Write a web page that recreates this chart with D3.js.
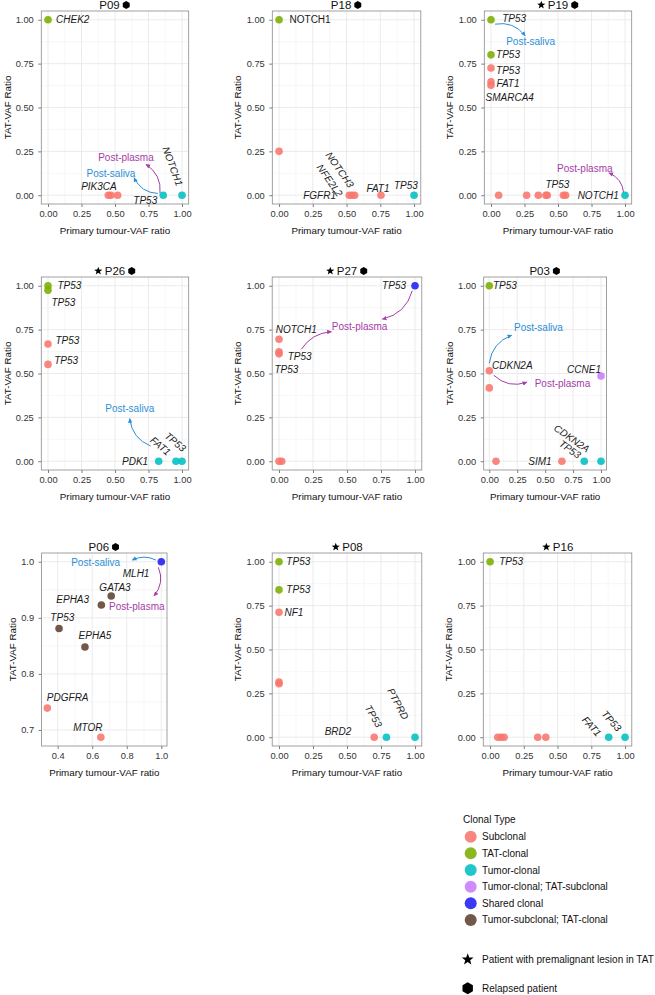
<!DOCTYPE html>
<html><head><meta charset="utf-8">
<script src="https://cdn.jsdelivr.net/npm/d3@7"></script>
<style>body{margin:0;background:#fff} svg{display:block} text{font-family:"Liberation Sans",Arial,Helvetica,sans-serif}</style>
</head><body><svg id="c" width="655" height="995"></svg>
<script>
// ---------------- DATA ----------------
const clonalTypes = ["Subclonal","TAT-clonal","Tumor-clonal","Tumor-clonal; TAT-subclonal","Shared clonal","Tumor-subclonal; TAT-clonal"];
const clonalColors = ["#F8766D","#7CAE00","#00BFC4","#C77CFF","#1F1FF5","#5E4130"];
const patients = ["P09","P18","P19","P26","P27","P03","P06","P08","P16"];
const premalignant = ["P19","P26","P27","P08","P16"];
const relapsed = ["P09","P18","P19","P26","P27","P03","P06"];
const xTickValues = [0,0.25,0.5,0.75,1];
const yTickValues = [0,0.25,0.5,0.75,1];
const xTickValuesP06 = [0.4,0.6,0.8,1.0];
const yTickValuesP06 = [0.7,0.8,0.9,1.0];

// points: [primary tumour-VAF ratio, TAT-VAF ratio, clonal type index]
const P09_points = [[0,1,1],[0.45,0,0],[0.47,0,0],[0.52,0,0],[0.86,0,2],[1,0,2]];
const P18_points = [[0,1,1],[0,0.25,0],[0.52,0,0],[0.54,0,0],[0.56,0,0],[0.755,0,0],[1,0,2]];
const P19_points = [[0,1,1],[0,0.80,1],[0,0.725,0],[0,0.646,0],[0,0.627,0],[0.057,0,0],[0.266,0,0],[0.353,0,0],[0.41,0,0],[0.42,0,0],[0.54,0,0],[0.557,0,0],[1,0,2]];
const P26_points = [[0,1,1],[0,0.975,1],[0,0.668,0],[0,0.552,0],[0.826,0,2],[0.955,0,2],[1,0,2]];
const P27_points = [[0,0.695,0],[0,0.623,0],[0,0.612,0],[0,0,0],[0.02,0,0],[1,1,4]];
const P03_points = [[0,1,1],[0,0.516,0],[0,0.418,0],[0.06,0,0],[0.65,0,0],[0.85,0,2],[1,0,2],[1,0.486,3]];
const P06_points = [[1,1,4],[0.71,0.939,5],[0.653,0.923,5],[0.408,0.881,5],[0.558,0.848,5],[0.34,0.739,0],[0.65,0.687,0]];
const P08_points = [[0,1,1],[0,0.84,1],[0,0.712,0],[0,0.314,0],[0,0.305,0],[0.70,0,0],[0.79,0,2],[1,0,2]];
const P16_points = [[0,1,1],[0.057,0,0],[0.081,0,0],[0.104,0,0],[0.353,0,0],[0.413,0,0],[0.879,0,2],[1,0,2]];

// gene labels: [text, x, y, angle, anchor, italic]
const P09_labels = [["CHEK2",0.06,1.0,0,"start",1],["PIK3CA",0.38,0.05,0,"middle",1],["TP53",0.726,-0.03,0,"middle",1],["NOTCH1",0.93,0.165,70,"middle",1]];
const P18_labels = [["NOTCH1",0.23,1.0,0,"middle",0],["FGFR1",0.30,0,0,"middle",1],["NOTCH3",0.45,0.145,55,"middle",1],["NFE2L2",0.375,0.085,55,"middle",1],["FAT1",0.733,0.04,0,"middle",1],["TP53",0.94,0.057,0,"middle",1]];
const P19_labels = [["TP53",0.173,1.01,0,"middle",1],["TP53",0.127,0.80,0,"middle",1],["TP53",0.127,0.71,0,"middle",1],["FAT1",0.127,0.635,0,"middle",1],["SMARCA4",0.14,0.555,0,"middle",1],["TP53",0.495,0.06,0,"middle",1],["NOTCH1",0.80,0,0,"middle",1]];
const P26_labels = [["TP53",0.16,1.0,0,"middle",1],["TP53",0.115,0.904,0,"middle",1],["TP53",0.145,0.69,0,"middle",1],["TP53",0.135,0.576,0,"middle",1],["PDK1",0.65,0,0,"middle",1],["TP53",0.95,0.11,40,"middle",1],["FAT1",0.84,0.087,40,"middle",1]];
const P27_labels = [["NOTCH1",0.127,0.753,0,"middle",1],["TP53",0.152,0.595,0,"middle",1],["TP53",0.054,0.52,0,"middle",1],["TP53",0.846,1.0,0,"middle",1]];
const P03_labels = [["TP53",0.14,1.0,0,"middle",1],["CDKN2A",0.206,0.548,0,"middle",1],["CCNE1",0.848,0.525,0,"middle",1],["SIM1",0.454,0,0,"middle",1],["TP53",0.722,0.068,35,"middle",1],["CDKN2A",0.738,0.13,35,"middle",1]];
const P06_labels = [["MLH1",0.854,0.979,0,"middle",1],["GATA3",0.732,0.954,0,"middle",1],["EPHA3",0.487,0.933,0,"middle",1],["TP53",0.427,0.90,0,"middle",1],["EPHA5",0.616,0.869,0,"middle",1],["PDGFRA",0.458,0.757,0,"middle",1],["MTOR",0.575,0.705,0,"middle",1]];
const P08_labels = [["TP53",0.142,1.0,0,"middle",1],["TP53",0.142,0.84,0,"middle",1],["NF1",0.11,0.712,0,"middle",1],["BRD2",0.434,0.034,0,"middle",1],["TP53",0.695,0.12,60,"middle",1],["PTPRD",0.875,0.19,62,"middle",1]];
const P16_labels = [["TP53",0.156,1.0,0,"middle",1],["FAT1",0.753,0.062,48,"middle",1],["TP53",0.90,0.093,48,"middle",1]];

// annotations: [kind, textX, textY] and arrows [kind, x1, y1, x2, y2, curvature]
const P09_notes = [["Post-plasma",0.582,0.216],["Post-saliva",0.47,0.125]];
const P09_arrows = [["Post-plasma",0.836,0.01,0.731,0.176,0.3],["Post-saliva",0.82,0.01,0.642,0.10,-0.3]];
const P19_notes = [["Post-saliva",0.296,0.877],["Post-plasma",0.70,0.152]];
const P19_arrows = [["Post-saliva",0.03,0.975,0.255,0.909,-0.3],["Post-plasma",0.99,0.013,0.88,0.127,0.3]];
const P26_notes = [["Post-saliva",0.61,0.298]];
const P26_arrows = [["Post-saliva",0.766,0.087,0.61,0.243,-0.3]];
const P27_notes = [["Post-plasma",0.593,0.77]];
const P27_arrows = [["Post-plasma",0.164,0.638,0.385,0.738,-0.25],["Post-plasma",0.98,0.972,0.76,0.81,-0.3]];
const P03_notes = [["Post-saliva",0.44,0.76],["Post-plasma",0.655,0.445]];
const P03_arrows = [["Post-saliva",0,0.558,0.2,0.718,-0.3],["Post-plasma",0.04,0.49,0.336,0.45,0.3]];
const P06_notes = [["Post-saliva",0.62,0.999],["Post-plasma",0.858,0.921]];
const P06_arrows = [["Post-saliva",0.969,1.003,0.832,1.003,0.25],["Post-plasma",0.983,0.99,0.958,0.939,-0.3]];

// ---------------- LAYOUT ----------------
const boxes = {
  P09:{l:41.3,r:188.7,t:11,b:204}, P18:{l:272.3,r:420.8,t:11,b:204}, P19:{l:484.3,r:631.7,t:11,b:204},
  P26:{l:41.3,r:188.7,t:277,b:470}, P27:{l:272.2,r:421.8,t:277,b:470}, P03:{l:483.7,r:606.6,t:277,b:470},
  P06:{l:41.6,r:167,t:553,b:746}, P08:{l:272.2,r:421.8,t:553,b:746}, P16:{l:483.3,r:631.8,t:553,b:746}
};
const panelData = {
  P09:[P09_points,P09_labels,P09_notes,P09_arrows], P18:[P18_points,P18_labels,[],[]], P19:[P19_points,P19_labels,P19_notes,P19_arrows],
  P26:[P26_points,P26_labels,P26_notes,P26_arrows], P27:[P27_points,P27_labels,P27_notes,P27_arrows], P03:[P03_points,P03_labels,P03_notes,P03_arrows],
  P06:[P06_points,P06_labels,P06_notes,P06_arrows], P08:[P08_points,P08_labels,[],[]], P16:[P16_points,P16_labels,[],[]]
};
const noteColors = {"Post-saliva":"#2A8FD7","Post-plasma":"#A53DA6"};

const svg = d3.select("#c");
const defs = svg.append("defs");
Object.entries(noteColors).forEach(([k,c])=>{
  defs.append("marker").attr("id","ah-"+k).attr("viewBox","0 0 6 6").attr("refX",5).attr("refY",3)
    .attr("markerUnits","userSpaceOnUse").attr("markerWidth",5).attr("markerHeight",5).attr("orient","auto")
    .append("path").attr("d","M0,0.4 L5.6,3 L0,5.6 Z").attr("fill",c);
});

function hexPath(r){ const p=[]; for(let i=0;i<6;i++){const a=Math.PI/6+i*Math.PI/3; p.push([r*Math.cos(a), r*Math.sin(a)]);} return "M"+p.map(d=>d.join(",")).join("L")+"Z"; }
function starPath(R){ const r=R*0.42, p=[]; for(let i=0;i<10;i++){const a=-Math.PI/2+i*Math.PI/5, rr=i%2?r:R; p.push([rr*Math.cos(a), rr*Math.sin(a)]);} return "M"+p.map(d=>d.join(",")).join("L")+"Z"; }

function expand(ext){ const p=(ext[1]-ext[0])*0.05; return [ext[0]-p, ext[1]+p]; }

patients.forEach(id=>{
  const B = boxes[id];
  const [pts, labels, notes, arrows] = panelData[id];
  const x = d3.scaleLinear().domain(expand(d3.extent(pts,d=>d[0]))).range([B.l,B.r]);
  const y = d3.scaleLinear().domain(expand(d3.extent(pts,d=>d[1]))).range([B.b,B.t]);
  const xt = id==="P06" ? xTickValuesP06 : xTickValues;
  const yt = id==="P06" ? yTickValuesP06 : yTickValues;
  const fmt = id==="P06" ? d3.format(".1f") : d3.format(".2f");
  const g = svg.append("g");

  // grid
  const xd = x.domain(), yd = y.domain();
  const step = xt[1]-xt[0], ystep = yt[1]-yt[0];
  const xMinor = d3.range(xt[0]-step/2, xt[xt.length-1]+step, step).filter(v=>v>xd[0]&&v<xd[1]);
  const yMinor = d3.range(yt[0]-ystep/2, yt[yt.length-1]+ystep, ystep).filter(v=>v>yd[0]&&v<yd[1]);
  g.selectAll(".xm").data(xMinor).join("line").attr("x1",d=>x(d)).attr("x2",d=>x(d)).attr("y1",B.t).attr("y2",B.b).attr("stroke","#EFEFEF").attr("stroke-width",0.5);
  g.selectAll(".ym").data(yMinor).join("line").attr("y1",d=>y(d)).attr("y2",d=>y(d)).attr("x1",B.l).attr("x2",B.r).attr("stroke","#EFEFEF").attr("stroke-width",0.5);
  g.selectAll(".xM").data(xt).join("line").attr("x1",d=>x(d)).attr("x2",d=>x(d)).attr("y1",B.t).attr("y2",B.b).attr("stroke","#E6E6E6").attr("stroke-width",0.8);
  g.selectAll(".yM").data(yt).join("line").attr("y1",d=>y(d)).attr("y2",d=>y(d)).attr("x1",B.l).attr("x2",B.r).attr("stroke","#E6E6E6").attr("stroke-width",0.8);

  // axes
  const gx = g.append("g").attr("transform",`translate(0,${B.b})`)
    .call(d3.axisBottom(x).tickValues(xt).tickFormat(fmt).tickSize(3).tickPadding(3));
  const gy = g.append("g").attr("transform",`translate(${B.l},0)`)
    .call(d3.axisLeft(y).tickValues(yt).tickFormat(fmt).tickSize(3).tickPadding(4.5));
  [gx,gy].forEach(a=>{ a.select(".domain").remove(); a.selectAll("line").attr("stroke","#444").attr("stroke-width",0.7);
    a.selectAll("text").attr("fill","#333").style("font-size","9.3px").style("font-family","'Liberation Sans',Arial,sans-serif"); });

  // border
  g.append("rect").attr("x",B.l).attr("y",B.t).attr("width",B.r-B.l).attr("height",B.b-B.t)
    .attr("fill","none").attr("stroke","#8a8a8a").attr("stroke-width",0.8);

  // axis titles
  g.append("text").attr("x",(B.l+B.r)/2).attr("y",B.b+29.5).attr("text-anchor","middle")
    .style("font-size","9.8px").attr("fill","#111").text("Primary tumour-VAF ratio");
  const yb = gy.node().getBBox();
  g.append("text").attr("transform",`translate(${Math.max(8, B.l+yb.x-9)},${(B.t+B.b)/2}) rotate(-90)`).attr("dy","0.35em")
    .attr("text-anchor","middle").style("font-size","9.8px").attr("fill","#111").text("TAT-VAF Ratio");

  // title with symbols
  const tg = g.append("g");
  const tt = tg.append("text").attr("y",B.t-2).style("font-size","11.5px").attr("fill","#111").text(id);
  const tw = tt.node().getComputedTextLength();
  const hasStar = premalignant.includes(id), hasHex = relapsed.includes(id);
  const sw = 11, total = tw + (hasStar?sw:0) + (hasHex?sw:0);
  let cx = (B.l+B.r)/2 - total/2;
  if(hasStar){ tg.append("path").attr("d",starPath(4.3)).attr("transform",`translate(${cx+4.5},${B.t-6})`).attr("fill","#000"); cx+=sw; }
  tt.attr("x",cx); cx+=tw;
  if(hasHex){ tg.append("path").attr("d",hexPath(4)).attr("transform",`translate(${cx+6.5},${B.t-6})`).attr("fill","#000"); }

  // arrows
  arrows.forEach(a=>{
    const [k,x1d,y1d,x2d,y2d,c]=a;
    const x1=x(x1d),y1=y(y1d),x2=x(x2d),y2=y(y2d);
    const dx=x2-x1, dy=y2-y1, mx=(x1+x2)/2, my=(y1+y2)/2;
    const qx=mx - c*dy, qy=my + c*dx;
    g.append("path").attr("d",`M${x1},${y1}Q${qx},${qy} ${x2},${y2}`).attr("fill","none")
      .attr("stroke",noteColors[k]).attr("stroke-width",1).attr("marker-end",`url(#ah-${k})`);
  });

  // points
  g.selectAll(".pt").data(pts).join("circle").attr("cx",d=>x(d[0])).attr("cy",d=>y(d[1])).attr("r",3.8)
    .attr("fill",d=>clonalColors[d[2]]).attr("fill-opacity",0.88);

  // labels
  labels.forEach(L=>{
    const [t,lx,ly,ang,anc,it]=L;
    g.append("text").attr("transform",`translate(${x(lx)},${y(ly)}) rotate(${ang})`).attr("dy","0.35em")
      .attr("text-anchor",anc).style("font-size","10px").style("font-style",it?"italic":"normal").attr("fill","#1a1a1a").text(t);
  });
  notes.forEach(n=>{
    g.append("text").attr("x",x(n[1])).attr("y",y(n[2])).attr("dy","0.35em").attr("text-anchor","middle")
      .style("font-size","10px").attr("fill",noteColors[n[0]]).text(n[0]);
  });
});

// ---------------- LEGEND ----------------
const lg = svg.append("g");
lg.append("text").attr("x",463).attr("y",819).attr("dy","0.35em").style("font-size","10px").attr("fill","#111").text("Clonal Type");
clonalTypes.forEach((t,i)=>{
  const cy = 836.7 + i*16.65;
  lg.append("circle").attr("cx",470.7).attr("cy",cy).attr("r",6).attr("fill",clonalColors[i]).attr("fill-opacity",0.88);
  lg.append("text").attr("x",482).attr("y",cy).attr("dy","0.35em").style("font-size","10px").attr("fill","#111").text(t);
});
lg.append("path").attr("d",starPath(6.2)).attr("transform","translate(467.7,959.5)").attr("fill","#000");
lg.append("text").attr("x",482).attr("y",959.3).attr("dy","0.35em").style("font-size","10px").attr("fill","#111").text("Patient with premalignant lesion in TAT");
lg.append("path").attr("d",hexPath(6)).attr("transform","translate(467.7,988.3)").attr("fill","#000");
lg.append("text").attr("x",482).attr("y",988.3).attr("dy","0.35em").style("font-size","10px").attr("fill","#111").text("Relapsed patient");
</script></body></html>
